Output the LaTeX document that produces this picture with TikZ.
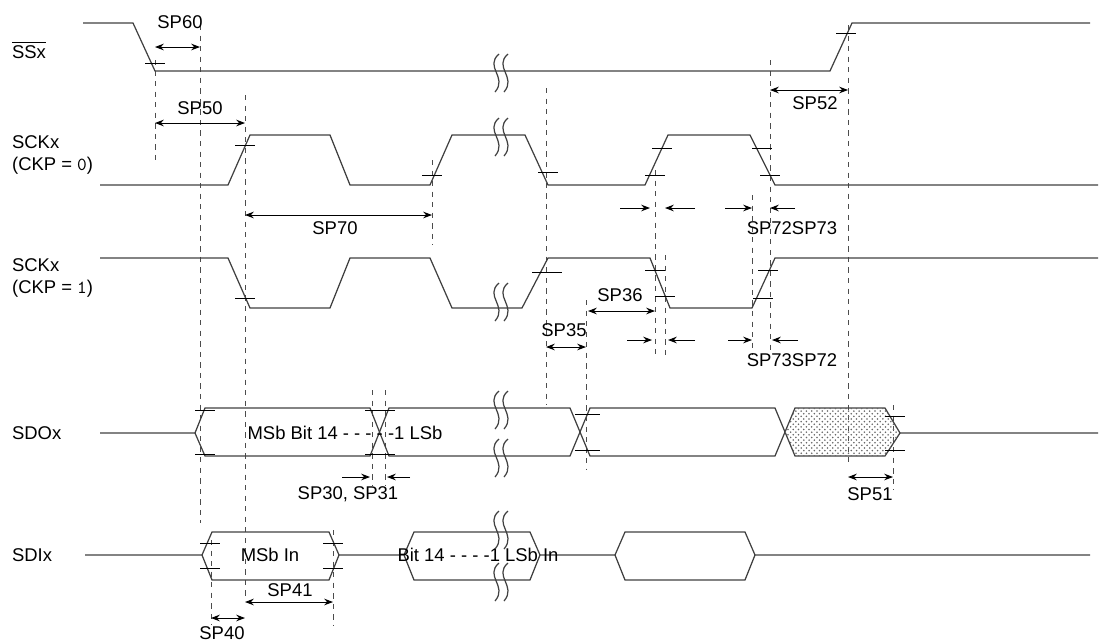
\documentclass[tikz,border=0pt]{standalone}
\usepackage{fontspec}
\setmainfont{Liberation Sans}
\usetikzlibrary{patterns,arrows.meta}
\begin{document}
\begin{tikzpicture}[x=0.02cm,y=-0.02cm,
  font=\fontsize{10.5}{12.5}\selectfont,
  wave/.style={draw=black!75,line width=0.7pt},
  guide/.style={draw=black!70,dashed,dash pattern=on 3pt off 3pt,line width=0.4pt},
  dim/.style={draw=black,{Stealth[length=5pt]}-{Stealth[length=5pt]},line width=0.5pt},
  pin/.style={draw=black,-{Stealth[length=5pt]},line width=0.5pt},
  tick/.style={draw=black,line width=0.5pt},
  lbl/.style={inner sep=1pt},
  brk/.pic={\draw[black!75,line width=0.7pt] (-1,-19) .. controls (-16,-6) and (8,4) .. (-5,19);
            \draw[black!75,line width=0.7pt] (8,-19) .. controls (-7,-6) and (17,4) .. (4,19);}]
\useasboundingbox (0,0) rectangle (1103,643);

% signal names
\node[lbl,anchor=west] (ss) at (10,50) {$\overline{\mbox{SSx}}$};
\node[lbl,anchor=west,align=left] (sck0) at (10,155) {SCKx\\(CKP = \texttt{0})};
\node[lbl,anchor=west,align=left] (sck1) at (10,278) {SCKx\\(CKP = \texttt{1})};
\node[lbl,anchor=west] (sdo) at (10,433) {SDOx};
\node[lbl,anchor=west] (sdi) at (10,555) {SDIx};

% guides
\draw[guide] (155,60) -- (155,160);
\draw[guide] (200,25) -- (200,523);
\draw[guide] (245,95) -- (245,600);
\draw[guide] (211,540) -- (211,625);
\draw[guide] (333,530) -- (333,625);
\draw[guide] (432,160) -- (432,245);
\draw[guide] (372,390) -- (372,485);
\draw[guide] (385,390) -- (385,485);
\draw[guide] (546,88) -- (546,405);
\draw[guide] (586,300) -- (586,470);
\draw[guide] (655,170) -- (655,355);
\draw[guide] (665,255) -- (665,355);
\draw[guide] (752,195) -- (752,355);
\draw[guide] (770,60) -- (770,355);
\draw[guide] (848,25) -- (848,465);
\draw[guide] (893,405) -- (893,490);

% SSx
\draw[wave] (83,23) -- (133,23) -- (155,71) -- (830,71) -- (852,23) -- (1090,23);
\draw[tick] (145,63) -- (165,63);
\draw[tick] (836,33) -- (856,33);
\pic at (500,73) {brk};

% SCKx CKP=0
\draw[wave] (100,185) -- (228,185) -- (250,135) -- (330,135) -- (350,185) -- (430,185)
  -- (452,135) -- (525,135) -- (548,185) -- (645,185) -- (668,135) -- (750,135)
  -- (775,185) -- (1098,185);
\draw[tick] (235,145) -- (255,145);
\draw[tick] (422,175) -- (442,175);
\draw[tick] (538,172) -- (558,172);
\draw[tick] (645,175) -- (665,175);
\draw[tick] (652,148) -- (672,148);
\draw[tick] (752,148) -- (772,148);
\draw[tick] (760,175) -- (780,175);
\pic at (500,137) {brk};

% SCKx CKP=1
\draw[wave] (100,258) -- (228,258) -- (250,308) -- (330,308) -- (350,258) -- (430,258)
  -- (452,308) -- (522,308) -- (548,258) -- (650,258) -- (670,308) -- (752,308)
  -- (775,258) -- (1098,258);
\draw[tick] (235,298) -- (255,298);
\draw[tick] (532,272) -- (562,272);
\draw[tick] (645,270) -- (665,270);
\draw[tick] (655,296) -- (675,296);
\draw[tick] (753,298) -- (773,298);
\draw[tick] (758,270) -- (778,270);
\pic at (500,302) {brk};

% SDOx
\draw[wave] (100,433) -- (195,433) -- (205,408) -- (370,408) -- (389,456) -- (570,456) -- (590,408)
  -- (775,408) -- (795,456) -- (885,456) -- (900,433) -- (1098,433);
\draw[wave] (195,433) -- (205,456) -- (370,456) -- (389,408) -- (570,408) -- (590,456)
  -- (775,456) -- (795,408) -- (885,408) -- (900,433);
\path[pattern=crosshatch dots,pattern color=black!60] (785,432) -- (795,408) -- (885,408)
  -- (900,433) -- (885,456) -- (795,456) -- cycle;
\draw[tick] (195,410) -- (215,410);
\draw[tick] (195,454) -- (215,454);
\draw[tick] (365,410) -- (395,410);
\draw[tick] (365,454) -- (395,454);
\draw[tick] (575,414) -- (600,414);
\draw[tick] (575,450) -- (600,450);
\draw[tick] (885,416) -- (905,416);
\draw[tick] (885,450) -- (905,450);
\node[lbl] (bitsdo) at (345,433) {MSb Bit 14 - - - - -1 LSb};
\pic at (500,410) {brk};
\pic at (500,458) {brk};

% SDIx
\draw[wave] (85,555) -- (202,555) -- (212,532) -- (329,532) -- (339,555) -- (404,555) -- (414,532)
  -- (530,532) -- (540,555) -- (615,555) -- (625,532) -- (745,532) -- (755,555) -- (1090,555);
\draw[wave] (202,555) -- (212,580) -- (329,580) -- (339,555);
\draw[wave] (404,555) -- (414,580) -- (530,580) -- (540,555);
\draw[wave] (615,555) -- (625,580) -- (745,580) -- (755,555);
\draw[tick] (200,543) -- (220,543);
\draw[tick] (200,568) -- (220,568);
\draw[tick] (323,543) -- (343,543);
\draw[tick] (323,568) -- (343,568);
\node[lbl] (msbin) at (270,555) {MSb In};
\node[lbl] (bitsdi) at (478,555) {Bit 14 - - - -1 LSb In};
\pic at (500,530) {brk};
\pic at (500,582) {brk};

% timing
\node[lbl] (sp60) at (180,22) {SP60};
\draw[dim] (155,47) -- (200,47);
\node[lbl] (sp50) at (200,108) {SP50};
\draw[dim] (155,123) -- (245,123);
\node[lbl] (sp52) at (815,103) {SP52};
\draw[dim] (770,90) -- (848,90);
\node[lbl] (sp70) at (335,228) {SP70};
\draw[dim] (245,215) -- (432,215);
\draw[pin] (620,208) -- (650,208);
\draw[pin] (695,208) -- (665,208);
\draw[pin] (725,208) -- (752,208);
\draw[pin] (795,208) -- (770,208);
\node[lbl] (sp7273) at (792,228) {SP72SP73};
\node[lbl] (sp36) at (620,295) {SP36};
\draw[dim] (588,311) -- (655,311);
\node[lbl] (sp35) at (564,330) {SP35};
\draw[dim] (546,347) -- (586,347);
\draw[pin] (627,340) -- (652,340);
\draw[pin] (695,340) -- (668,340);
\draw[pin] (728,340) -- (752,340);
\draw[pin] (798,340) -- (772,340);
\node[lbl] (sp7372) at (792,360) {SP73SP72};
\draw[pin] (342,477) -- (370,477);
\draw[pin] (410,477) -- (387,477);
\node[lbl] (sp3031) at (348,494) {SP30, SP31};
\draw[dim] (848,477) -- (893,477);
\node[lbl] (sp51) at (870,494) {SP51};
\node[lbl] (sp41) at (290,590) {SP41};
\draw[dim] (245,602) -- (333,602);
\draw[dim] (211,618) -- (245,618);
\node[lbl] (sp40) at (222,633) {SP40};
\end{tikzpicture}
\end{document}
